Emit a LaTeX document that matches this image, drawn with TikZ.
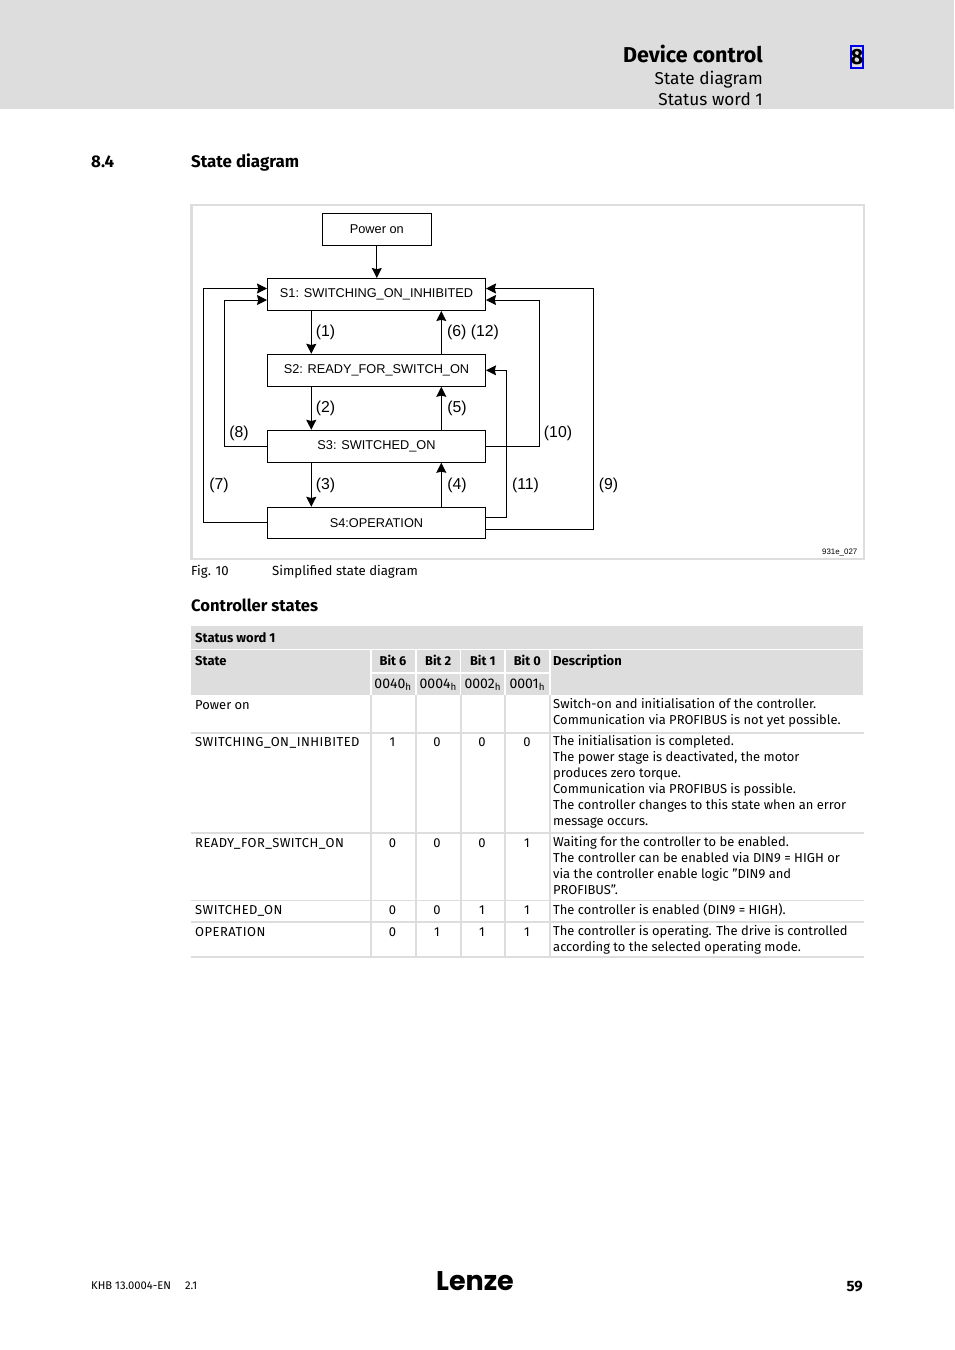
\documentclass[tikz,border=0pt]{standalone}
\usepackage{fontspec}
\setmainfont{Fira Sans}
\newfontfamily\capsfont[LetterSpace=3.7]{Fira Sans}
\newfontfamily\diagfont{Liberation Sans}
\newfontfamily\logofont{Poppins}
\usetikzlibrary{arrows.meta,calc,positioning}
\definecolor{band}{HTML}{DDDDDD}
\definecolor{markblue}{HTML}{0000F0}

\begin{document}
\begin{tikzpicture}[x=1pt,y=-1pt,
  state/.style={draw=black,line width=1pt,fill=white,inner sep=0pt,minimum width=218pt,font=\diagfont\fontsize{12.75}{14}\selectfont},
  arr/.style={-{Stealth[length=10pt,width=10pt,inset=1.2pt]},line width=1pt},
  num/.style={inner sep=0pt,font=\diagfont\fontsize{15.8}{18}\selectfont},
  body/.style={inner sep=0pt,font=\fontsize{12.95}{16}\selectfont,align=left},
  head/.style={inner sep=0pt,font=\bfseries\fontsize{13}{16}\selectfont},
  cell/.style={fill=band,inner sep=0pt,font=\fontsize{14}{16}\selectfont},
  rowline/.style={draw=band,line width=1.6pt}]
\useasboundingbox (0,0) rectangle (954,1350);
% page header
\fill[band] (0,0) rectangle (954,109);
\node[anchor=base east,inner sep=0pt,font=\bfseries\fontsize{21.5}{24}\selectfont] (title) at (763,62) {Device control};
\node[anchor=base east,inner sep=0pt,font=\fontsize{17.2}{20}\selectfont] (sub1) at (763,84) {State diagram};
\node[anchor=base east,inner sep=0pt,font=\fontsize{17.2}{20}\selectfont] (sub2) at (763,105) {Status word 1};
\node[draw=markblue,line width=1.8pt,minimum width=12pt,minimum height=22pt,inner sep=0pt,font=\bfseries\fontsize{22}{24}\selectfont] (chap) at (857,57) {8};
\node[anchor=base west,inner sep=0pt,font=\bfseries\fontsize{16.9}{20}\selectfont] (secno) at (91,167) {8.4};
\node[anchor=base west,inner sep=0pt,font=\bfseries\fontsize{16.9}{20}\selectfont] (sec) at (191,167) {State diagram};
% figure
\draw[band,line width=2.2pt] (191.5,205.3) rectangle (864,559);
\node[state,minimum width=109pt,minimum height=32pt] (pw) at (376.8,229) {Power on};
\node[state,minimum height=32pt] (s1) at (376.5,294.5) {S1: SWITCHING\_ON\_INHIBITED};
\node[state,minimum height=32pt] (s2) at (376.5,370.3) {S2: READY\_FOR\_SWITCH\_ON};
\node[state,minimum height=32pt] (s3) at (376.5,446.3) {S3: SWITCHED\_ON};
\node[state,minimum height=31pt] (s4) at (376.5,522.8) {S4:OPERATION};
\draw[arr] (pw.south) -- (pw.south|-s1.north);
\foreach \a/\b in {s1/s2,s2/s3,s3/s4}{
  \draw[arr] ([xshift=-65.2pt]\a.south) -- ([xshift=-65.2pt]\b.north);
}
\foreach \a/\b in {s2/s1,s3/s2,s4/s3}{
  \draw[arr] ([xshift=64.8pt]\a.north) -- ([xshift=64.8pt]\b.south);
}
\draw[arr] (s4.west) -- ++(-64,0) |- ([yshift=6pt]s1.west);
\draw[arr] (s3.west) -- ++(-43,0) |- ([yshift=-5.5pt]s1.west);
\draw[arr] ([yshift=-6.5pt]s4.east) -- ++(107.2,0) |- ([yshift=6pt]s1.east);
\draw[arr] (s3.east) -- ++(53.2,0) |- ([yshift=-5.5pt]s1.east);
\draw[arr] ([yshift=5.5pt]s4.east) -- ++(20.8,0) |- (s2.east);
\foreach \x/\y/\lab in {325.5/332/(1),473/332/(6) (12),325.5/408/(2),457/408/(5),239/433/(8),558/433/(10),
  219/485/(7),325.5/485/(3),457/485/(4),525.5/485/(11),608.5/485/(9)}{
  \node[num] (n\x\y) at (\x,\y) {\lab};
}
\node[anchor=east,inner sep=0pt,font=\diagfont\fontsize{7.9}{9}\selectfont] (figno) at (857.5,553) {931e\_027};
\node[anchor=base west,inner sep=0pt,font=\fontsize{13.2}{16}\selectfont] (cap) at (191,575) {Fig. 10};
\node[anchor=base west,inner sep=0pt,font=\fontsize{13.2}{16}\selectfont] (capt) at (272,575) {Simplified state diagram};
\node[anchor=base west,inner sep=0pt,font=\bfseries\fontsize{16.6}{20}\selectfont] (ctrl) at (191,611) {Controller states};
% table head
\fill[band] (191,626) rectangle (863,649);
\fill[band] (191,650) rectangle (370,695);
\fill[band] (551,650) rectangle (863,695);
\node[head,anchor=base west] (hsw) at (195,642) {Status word 1};
\node[head,anchor=base west] (hst) at (195,665) {State};
\node[head,anchor=base west] (hde) at (553,665) {Description};
\foreach \i/\x/\bit/\hex in {6/393/6/0040,2/438.2/2/0004,1/482.8/1/0002,0/527.3/0/0001}{
  \node[cell,minimum width=43pt,minimum height=22pt,font=\bfseries\fontsize{12.8}{16}\selectfont] (b\i) at (\x,660.7) {Bit \bit};
  \node[cell,minimum width=43pt,minimum height=21.5pt] (h\i) at (\x,684.6) {\hex\textsubscript{h}};
}
% table body
\foreach \y in {733,833,900.5,922,957}{
  \draw[rowline] (191,\y) -- (864,\y);
}
\foreach \x in {371,416,461,505,550}{
  \draw[rowline] (\x,695) -- (\x,957);
}
\foreach \r/\y/\lab/\bsix/\btwo/\bone/\bzero in {
  a/709/Power on////,
  b/746/{\capsfont SWITCHING\_ON\_INHIBITED}/1/0/0/0,
  c/847/{\capsfont READY\_FOR\_SWITCH\_ON}/0/0/0/1,
  d/914/{\capsfont SWITCHED\_ON}/0/0/1/1,
  e/936/{\capsfont OPERATION}/0/1/1/1}{
  \node[body,anchor=base west] (st\r) at (195,\y) {\lab};
  \node[body,anchor=base] (v6\r) at (392.5,\y) {\bsix};
  \node[body,anchor=base] (v2\r) at (437,\y) {\btwo};
  \node[body,anchor=base] (v1\r) at (482,\y) {\bone};
  \node[body,anchor=base] (v0\r) at (527,\y) {\bzero};
}
\node[body,anchor=north west] (da) at (553,698.5) {Switch-on and initialisation of the controller.\\Communication via PROFIBUS is not yet possible.};
\node[body,anchor=north west] (db) at (553,735.5) {The initialisation is completed.\\The power stage is deactivated, the motor\\produces zero torque.\\Communication via PROFIBUS is possible.\\The controller changes to this state when an error\\message occurs.};
\node[body,anchor=north west] (dc) at (553,836.5) {Waiting for the controller to be enabled.\\The controller can be enabled via DIN9 = HIGH or\\via the controller enable logic ”DIN9 and\\PROFIBUS”.};
\node[body,anchor=north west] (dd) at (553,903.5) {The controller is enabled (DIN9 = HIGH).};
\node[body,anchor=north west] (de) at (553,925.5) {The controller is operating. The drive is controlled\\according to the selected operating mode.};
% page footer
\node[anchor=base west,inner sep=0pt,font=\fontsize{11.2}{12}\selectfont] (khb) at (91,1289) {KHB 13.0004-EN};
\node[anchor=base west,inner sep=0pt,font=\fontsize{11.2}{12}\selectfont] (ver) at (185,1289) {2.1};
\node[anchor=base,inner sep=0pt,font=\logofont\bfseries\fontsize{27}{30}\selectfont] (logo) at (475,1290) {Lenze};
\node[anchor=base east,inner sep=0pt,font=\bfseries\fontsize{15}{16}\selectfont] (page) at (863,1291) {59};
\end{tikzpicture}
\end{document}
